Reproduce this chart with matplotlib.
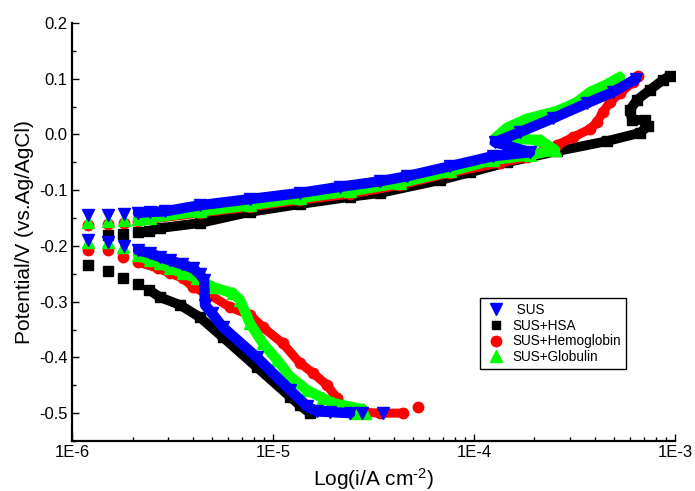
import matplotlib
matplotlib.use("Agg")
import matplotlib.pyplot as plt
from matplotlib.lines import Line2D
from matplotlib.ticker import FixedLocator, LogLocator, NullFormatter, FixedFormatter

plt.rcParams['font.family'] = ['Liberation Sans', 'DejaVu Sans']
plt.rcParams['axes.unicode_minus'] = False
plt.rcParams['mathtext.fontset'] = 'custom'
plt.rcParams['mathtext.rm'] = 'Liberation Sans'
plt.rcParams['mathtext.it'] = 'Liberation Sans:italic'
plt.rcParams['mathtext.bf'] = 'Liberation Sans:bold'

# current density (A/cm2) vs potential (V)
# SUS
sus_cath_i = [2.42e-5, 1.92e-5, 1.66e-5, 1.48e-5, 1.22e-5, 8.33e-6, 5.64e-6, 4.97e-6, 4.59e-6,
              4.54e-6, 4.33e-6, 4.00e-6, 3.53e-6, 3.07e-6, 2.74e-6, 2.44e-6, 2.13e-6]
sus_cath_e = [-0.500, -0.498, -0.497, -0.488, -0.459, -0.400, -0.346, -0.321, -0.306,
              -0.261, -0.251, -0.240, -0.233, -0.226, -0.220, -0.213, -0.208]
sus_anod_i = [2.13e-6, 2.44e-6, 2.90e-6, 4.33e-6, 7.69e-6, 1.36e-5, 2.15e-5, 3.41e-5, 4.64e-5,
              7.60e-5, 1.24e-4, 1.90e-4, 1.43e-4, 1.27e-4, 1.69e-4, 2.47e-4, 3.65e-4, 4.91e-4, 6.40e-4]
sus_anod_e = [-0.141, -0.139, -0.138, -0.127, -0.116, -0.105, -0.094, -0.084, -0.075,
              -0.057, -0.039, -0.032, -0.019, -0.014, 0.004, 0.029, 0.056, 0.076, 0.100]
sus_dot_i = [1.20e-6, 1.51e-6, 1.81e-6, 1.20e-6, 1.51e-6, 1.81e-6, 2.77e-5, 3.53e-5]
sus_dot_e = [-0.145, -0.145, -0.143, -0.190, -0.193, -0.200, -0.500, -0.500]

# SUS+HSA
hsa_cath_i = [1.53e-5, 1.36e-5, 1.22e-5, 8.33e-6, 5.64e-6, 4.33e-6, 3.45e-6, 2.74e-6, 2.42e-6]
hsa_cath_e = [-0.500, -0.486, -0.471, -0.418, -0.364, -0.328, -0.306, -0.292, -0.279]
hsa_anod_i = [2.42e-6, 2.74e-6, 4.33e-6, 7.69e-6, 1.36e-5, 2.42e-5, 3.41e-5, 6.77e-5, 9.55e-5,
              1.46e-4, 2.59e-4, 4.59e-4, 6.70e-4, 7.34e-4, 7.09e-4, 6.11e-4, 5.97e-4, 6.47e-4,
              7.51e-4, 8.72e-4, 9.44e-4]
hsa_anod_e = [-0.173, -0.168, -0.159, -0.139, -0.125, -0.112, -0.105, -0.082, -0.068,
              -0.050, -0.030, -0.012, 0.003, 0.015, 0.026, 0.026, 0.044, 0.062,
              0.080, 0.098, 0.105]
hsa_dot_i = [1.51e-6, 1.79e-6, 2.13e-6, 1.20e-6, 1.51e-6, 1.79e-6, 2.13e-6]
hsa_dot_e = [-0.181, -0.179, -0.175, -0.235, -0.245, -0.258, -0.269]

# SUS+Hemoglobin
hem_cath_i = [4.43e-5, 3.41e-5, 2.71e-5, 2.28e-5, 2.08e-5, 1.86e-5, 1.58e-5, 1.36e-5, 1.12e-5,
              8.92e-6, 7.69e-6, 6.11e-6, 4.86e-6, 4.00e-6, 3.57e-6, 3.07e-6, 2.68e-6, 2.13e-6]
hem_cath_e = [-0.500, -0.500, -0.498, -0.491, -0.473, -0.450, -0.428, -0.410, -0.375,
              -0.346, -0.324, -0.310, -0.288, -0.274, -0.258, -0.249, -0.240, -0.229]
hem_anod_i = [2.13e-6, 2.44e-6, 4.33e-6, 7.69e-6, 1.36e-5, 2.42e-5, 4.28e-5, 7.60e-5, 1.35e-4,
              1.83e-4, 2.59e-4, 3.11e-4, 3.78e-4, 4.09e-4, 4.38e-4, 4.75e-4, 5.32e-4, 6.18e-4, 6.55e-4]
hem_anod_e = [-0.156, -0.152, -0.141, -0.130, -0.118, -0.107, -0.091, -0.069, -0.051,
              -0.041, -0.019, -0.005, 0.010, 0.022, 0.040, 0.058, 0.074, 0.094, 0.105]
hem_dot_i = [1.20e-6, 1.51e-6, 1.81e-6, 1.20e-6, 1.51e-6, 1.79e-6, 5.26e-5]
hem_dot_e = [-0.163, -0.161, -0.159, -0.208, -0.208, -0.220, -0.489]

# SUS+Globulin
glo_cath_i = [2.80e-5, 2.23e-5, 1.99e-5, 1.77e-5, 1.48e-5, 1.22e-5, 1.05e-5, 8.92e-6, 7.69e-6,
              6.85e-6, 6.32e-6, 5.03e-6, 4.19e-6, 3.57e-6, 3.07e-6, 2.74e-6, 2.44e-6, 2.13e-6]
glo_cath_e = [-0.493, -0.486, -0.482, -0.473, -0.459, -0.435, -0.405, -0.375, -0.339,
              -0.297, -0.285, -0.274, -0.258, -0.249, -0.240, -0.231, -0.226, -0.217]
glo_anod_i = [2.13e-6, 2.44e-6, 4.33e-6, 7.69e-6, 1.36e-5, 2.42e-5, 4.28e-5, 7.60e-5, 1.24e-4,
              1.90e-4, 2.53e-4, 2.13e-4, 1.43e-4, 1.27e-4, 1.46e-4, 1.83e-4, 2.59e-4, 3.25e-4,
              3.78e-4, 4.59e-4, 5.32e-4]
glo_anod_e = [-0.152, -0.150, -0.138, -0.127, -0.114, -0.102, -0.087, -0.066, -0.046,
              -0.037, -0.028, -0.010, -0.007, -0.007, 0.012, 0.028, 0.042, 0.058,
              0.076, 0.090, 0.103]
glo_dot_i = [1.20e-6, 1.51e-6, 1.81e-6, 1.20e-6, 1.51e-6, 1.79e-6, 2.56e-5, 2.87e-5]
glo_dot_e = [-0.157, -0.156, -0.154, -0.193, -0.193, -0.202, -0.500, -0.500]

labels = [" SUS", "SUS+HSA", "SUS+Hemoglobin", "SUS+Globulin"]
x_ticks = [1e-6, 1e-5, 1e-4, 1e-3]
x_ticklabels = ["1E-6", "1E-5", "1E-4", "1E-3"]
y_ticks = [-0.5, -0.4, -0.3, -0.2, -0.1, 0.0, 0.1, 0.2]

fig = plt.figure(figsize=(6.95, 4.91), dpi=100)
ax = fig.add_axes([0.1036, 0.1018, 0.8676, 0.8514])

# drawn bottom to top: HSA, Hemoglobin, Globulin, SUS
curves = [
    (hsa_cath_i, hsa_cath_e, hsa_anod_i, hsa_anod_e, hsa_dot_i, hsa_dot_e, "black", "s", 7, 7.0),
    (hem_cath_i, hem_cath_e, hem_anod_i, hem_anod_e, hem_dot_i, hem_dot_e, "red", "o", 7.5, 6.5),
    (glo_cath_i, glo_cath_e, glo_anod_i, glo_anod_e, glo_dot_i, glo_dot_e, "#00ff00", "^", 8.5, 7.5),
    (sus_cath_i, sus_cath_e, sus_anod_i, sus_anod_e, sus_dot_i, sus_dot_e, "blue", "v", 8.5, 7.5),
]
for ci, ce, ai, ae, di, de, color, mk, ms, lw in curves:
    for xi, ye in ((ci, ce), (ai, ae)):
        ax.plot(xi, ye, color=color, lw=lw, marker=mk, ms=ms,
                solid_joinstyle="round", solid_capstyle="round")
    ax.plot(di, de, ls="none", color=color, marker=mk, ms=ms)

ax.set_xscale("log")
ax.set_xlim(1e-6, 1e-3)
ax.set_ylim(-0.55, 0.2)
ax.xaxis.set_major_locator(FixedLocator(x_ticks))
ax.xaxis.set_major_formatter(FixedFormatter(x_ticklabels))
ax.xaxis.set_minor_locator(LogLocator(base=10, subs=range(2, 10)))
ax.xaxis.set_minor_formatter(NullFormatter())
ax.yaxis.set_major_locator(FixedLocator(y_ticks))
ax.yaxis.set_major_formatter(FixedFormatter(["%.1f" % v for v in y_ticks]))
ax.yaxis.set_minor_locator(FixedLocator([-0.55, -0.45, -0.35, -0.25, -0.15, -0.05, 0.05, 0.15]))

for side in ("top", "right"):
    ax.spines[side].set_visible(False)
for side in ("left", "bottom"):
    ax.spines[side].set_linewidth(1.6)
ax.tick_params(which="major", direction="in", length=5, width=1, labelsize=12, pad=3)
ax.tick_params(which="minor", direction="in", length=3, width=1)

ax.set_xlabel("Log(i/A cm$^{\\text{-2}}$)", fontsize=15, labelpad=4)
ax.set_ylabel("Potential/V (vs.Ag/AgCl)", fontsize=15, labelpad=4)

handles = [
    Line2D([], [], ls="none", color="blue", marker="v", ms=9),
    Line2D([], [], ls="none", color="black", marker="s", ms=6),
    Line2D([], [], ls="none", color="red", marker="o", ms=7.5),
    Line2D([], [], ls="none", color="#00ff00", marker="^", ms=8.5),
]
leg = ax.legend(handles, labels, loc="upper left", bbox_to_anchor=(0.677, 0.342),
                fancybox=False, edgecolor="black", framealpha=1, fontsize=9.8,
                handlelength=1.6, handletextpad=0.45, borderpad=0.35,
                labelspacing=0.13, borderaxespad=0)
leg.get_frame().set_linewidth(1.0)

fig.savefig("out.png", dpi=100)
